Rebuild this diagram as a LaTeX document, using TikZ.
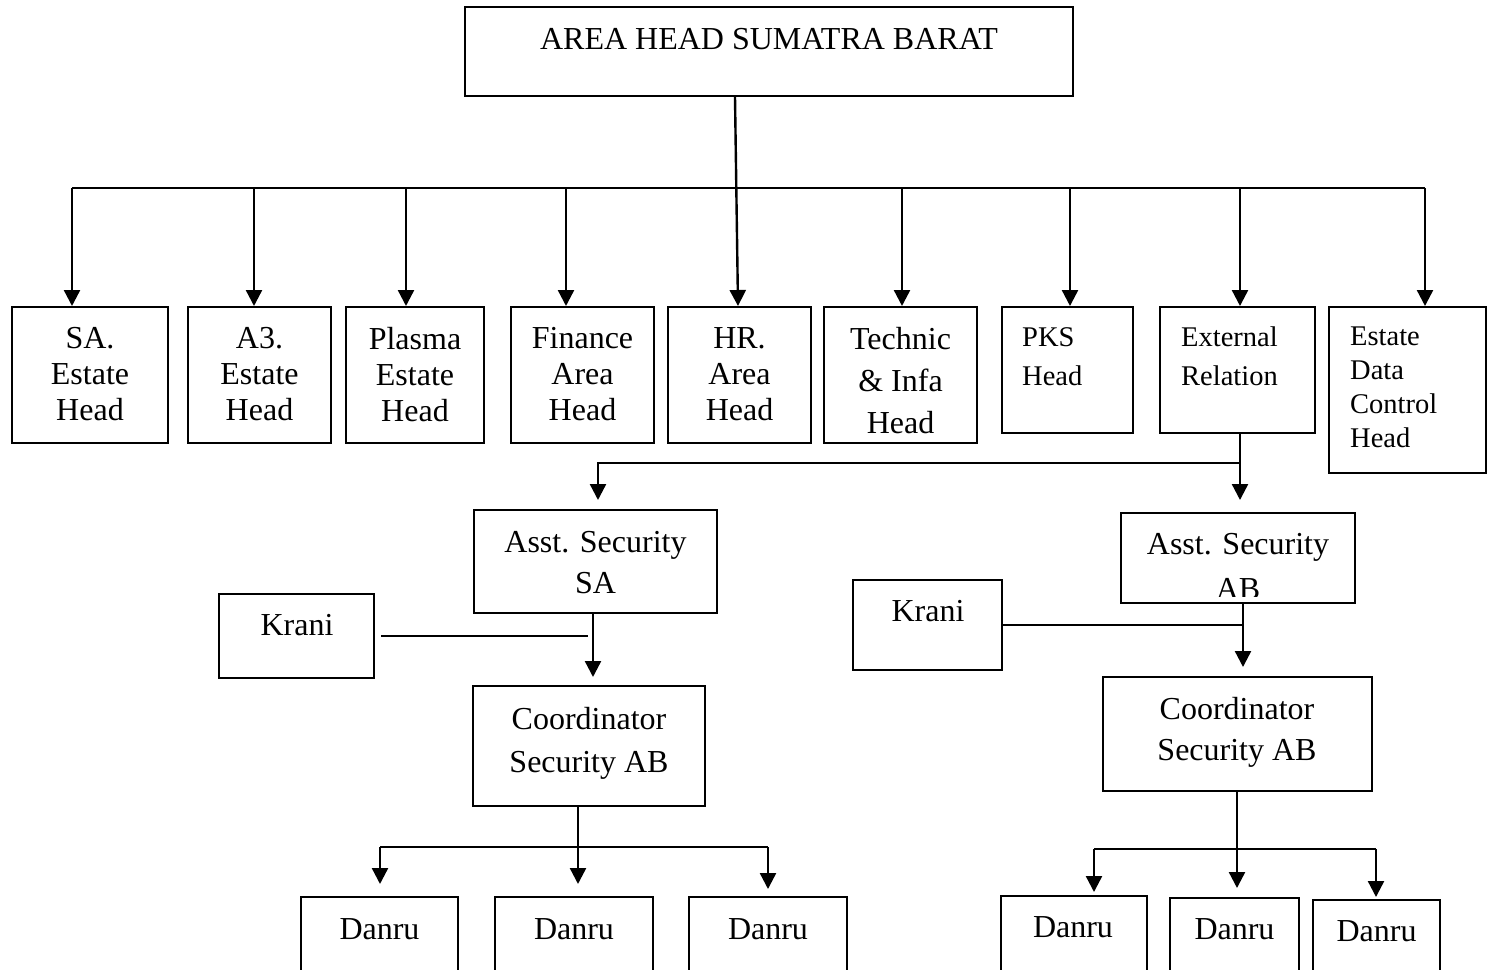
\documentclass[tikz,border=0pt]{standalone}
\usepackage{fontspec}
\setmainfont{Liberation Serif}
\usetikzlibrary{arrows.meta}

\begin{document}
\begin{tikzpicture}[x=1pt,y=-1pt,
  box/.style={draw,line width=2pt,inner sep=0pt},
  txt/.style={anchor=north,inner sep=0pt,align=center,font=\fontsize{32}{36}\selectfont},
  ltxt/.style={anchor=north west,inner sep=0pt,align=left,font=\fontsize{28.5}{39}\selectfont},
  line/.style={line width=2.4pt},
  kline/.style={line width=1.8pt},
  arr/.style={line width=2.4pt,-{Triangle[width=16pt,length=16pt]}}]

  \useasboundingbox (0,0) rectangle (1488,969);
  \clip (0,0) rectangle (1488,969);

  % top
  \node[box,minimum width=608pt,minimum height=89pt] (area) at (769,51.5) {};
  \node[txt] (area-t) at (769,28) {AREA HEAD SUMATRA BARAT};

  % second row
  \node[box,minimum width=156pt,minimum height=136pt] (sa) at (90,375) {};
  \node[box,minimum width=143pt,minimum height=136pt] (a3) at (259.5,375) {};
  \node[box,minimum width=138pt,minimum height=136pt] (plasma) at (415,375) {};
  \node[box,minimum width=143pt,minimum height=136pt] (finance) at (582.5,375) {};
  \node[box,minimum width=143pt,minimum height=136pt] (hr) at (739.5,375) {};
  \node[box,minimum width=153pt,minimum height=136pt] (technic) at (900.5,375) {};
  \node[box,minimum width=131pt,minimum height=126pt] (pks) at (1067.5,370) {};
  \node[box,minimum width=155pt,minimum height=126pt] (ext) at (1237.5,370) {};
  \node[box,minimum width=157pt,minimum height=166pt] (edc) at (1407.5,390) {};

  \node[txt] (sa-t) at (90,327) {SA.\\Estate\\Head};
  \node[txt] (a3-t) at (259.5,327) {A3.\\Estate\\Head};
  \node[txt] (plasma-t) at (415,327) {Plasma\\Estate\\Head};
  \node[txt] (finance-t) at (582.5,327) {Finance\\Area\\Head};
  \node[txt] (hr-t) at (739.5,327) {HR.\\Area\\Head};
  \node[txt,font=\fontsize{32}{42}\selectfont] (technic-t) at (900.5,327) {Technic\\\& Infa\\Head};
  \node[ltxt] (pks-t) at (1022,327) {PKS\\Head};
  \node[ltxt] (ext-t) at (1181,327) {External\\Relation};
  \node[ltxt,font=\fontsize{28.5}{34}\selectfont] (edc-t) at (1350,327) {Estate\\Data\\Control\\Head};

  % security SA
  \node[box,minimum width=243pt,minimum height=103pt] (asstsa) at (595.5,561.5) {};
  \node[box,minimum width=155pt,minimum height=84pt] (kranisa) at (296.5,636) {};
  \node[box,minimum width=232pt,minimum height=120pt] (coordsa) at (589,746) {};
  \node[box,minimum width=157pt,minimum height=93pt] (dsa1) at (379.5,943.5) {};
  \node[box,minimum width=158pt,minimum height=93pt] (dsa2) at (574,943.5) {};
  \node[box,minimum width=158pt,minimum height=93pt] (dsa3) at (768,943.5) {};

  \node[txt,font=\fontsize{32}{41}\selectfont] (asstsa-t) at (595.5,531) {Asst. Security\\SA};
  \node[txt] (kranisa-t) at (297,614) {Krani};
  \node[txt,font=\fontsize{32}{43}\selectfont] (coordsa-t) at (589,707) {Coordinator\\Security AB};
  \node[txt] (dsa1-t) at (379.5,918) {Danru};
  \node[txt] (dsa2-t) at (574,918) {Danru};
  \node[txt] (dsa3-t) at (768,918) {Danru};

  % security AB
  \node[box,minimum width=234pt,minimum height=90pt] (asstab) at (1238,558) {};
  \node[box,minimum width=149pt,minimum height=90pt] (kraniab) at (927.5,625) {};
  \node[box,minimum width=269pt,minimum height=114pt] (coordab) at (1237.5,734) {};
  \node[box,minimum width=146pt,minimum height=94pt] (dab1) at (1074,943) {};
  \node[box,minimum width=129pt,minimum height=92pt] (dab2) at (1234.5,944) {};
  \node[box,minimum width=127pt,minimum height=90pt] (dab3) at (1376.5,945) {};

  \begin{scope}
    \clip (asstab.north west) rectangle ([yshift=8pt]asstab.south east);
    \node[txt,font=\fontsize{32}{45}\selectfont] (asstab-t) at (1238,533) {Asst. Security\\AB};
  \end{scope}
  \node[txt] (kraniab-t) at (928,600) {Krani};
  \node[txt,font=\fontsize{32}{41}\selectfont] (coordab-t) at (1237,697) {Coordinator\\Security AB};
  \node[txt] (dab1-t) at (1073,916) {Danru};
  \node[txt] (dab2-t) at (1234.5,918) {Danru};
  \node[txt] (dab3-t) at (1376.5,920) {Danru};

  % connectors from the top
  \coordinate (busl) at (72,188);
  \coordinate (busr) at (1425,188);
  \draw[line] (busl) -- (busr);
  \draw[arr] ([xshift=-34pt]area.south) -- ([xshift=-1.5pt]hr.north);
  \foreach \n/\x in {sa/72,a3/254,plasma/406,finance/566,technic/902,pks/1070,ext/1240,edc/1425}{
    \coordinate (tap) at (\x,188);
    \draw[arr] (tap) -- (tap |- \n.north);
  }

  % external relation to security
  \coordinate (ej) at (1240,463);
  \coordinate (tipab) at (1240,500);
  \coordinate (tipsa) at (598,500);
  \draw[arr] (ext.south -| ej) -- (tipab);
  \draw[arr] (ej) -- (ej -| tipsa) -- (tipsa);

  % SA side
  \coordinate (sadown) at (593,0);
  \draw[arr,shorten >=8pt] (asstsa.south -| sadown) -- (coordsa.north -| sadown);
  \draw[kline] ([xshift=6pt]kranisa.east) -- ([xshift=-5pt]kranisa.east -| sadown);
  \coordinate (sabus) at (578,847);
  \coordinate (sal) at (380,847);
  \coordinate (sar) at (768,847);
  \draw[line] (coordsa.south -| sabus) -- (sabus);
  \draw[line] (sal) -- (sar);
  \draw[arr,shorten >=12pt] (sal) -- (sal |- dsa1.north);
  \draw[arr,shorten >=12pt] (sabus) -- (sabus |- dsa2.north);
  \draw[arr,shorten >=7pt] (sar) -- (sar |- dsa3.north);

  % AB side
  \coordinate (abdown) at (1243,0);
  \draw[arr,shorten >=9pt] (asstab.south -| abdown) -- (coordab.north -| abdown);
  \draw[kline] (kraniab.east) -- (kraniab.east -| abdown);
  \coordinate (abbus) at (1237,849);
  \coordinate (abl) at (1094,849);
  \coordinate (abr) at (1376,849);
  \draw[line] (coordab.south -| abbus) -- (abbus);
  \draw[line] (abl) -- (abr);
  \draw[arr,shorten >=3pt] (abl) -- (abl |- dab1.north);
  \draw[arr,shorten >=9pt] (abbus) -- (abbus |- dab2.north);
  \draw[arr,shorten >=2pt] (abr) -- (abr |- dab3.north);

\end{tikzpicture}
\end{document}
